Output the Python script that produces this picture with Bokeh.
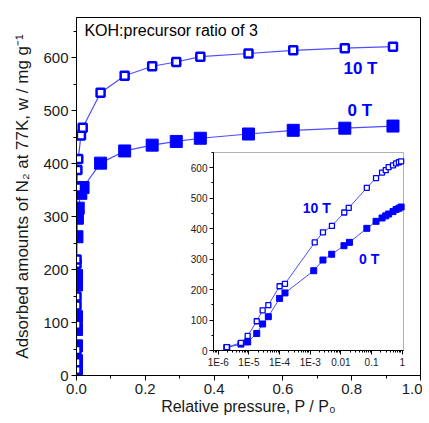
import math
from bokeh.plotting import figure
from bokeh.models import (Range1d, LogScale, LinearAxis, LogAxis, FixedTicker,
                          NumeralTickFormatter, CustomJSTickFormatter, BoxAnnotation, Label)
from bokeh.embed import file_html
from bokeh.resources import INLINE

# ---------------- data ----------------
p_10T = [1.9e-6, 5.5e-6, 9.1e-6, 1.8e-5, 2.8e-5, 4.3e-5, 1.0e-4, 1.5e-4, 1.4e-3, 2.6e-3,
         5.1e-3, 0.0129, 0.018, 0.07, 0.14, 0.22, 0.29, 0.36, 0.50, 0.63, 0.78, 0.92]
w_10T = [11, 25, 48, 96, 132, 149, 211, 219, 355, 388,
         409, 453, 468, 534, 566, 584, 592, 602, 608, 614, 618, 621]

p_0T = [1.9e-6, 5.5e-6, 9.1e-6, 1.8e-5, 2.8e-5, 4.3e-5, 1.0e-4, 1.5e-4, 1.3e-3, 2.6e-3,
        5.0e-3, 0.0126, 0.019, 0.07, 0.14, 0.22, 0.29, 0.36, 0.50, 0.63, 0.78, 0.92]
w_0T = [10, 21, 28, 56, 87, 111, 171, 189, 262, 297,
        316, 344, 355, 401, 424, 435, 442, 448, 456, 463, 467, 471]

main_x_ticks = [0.0, 0.2, 0.4, 0.6, 0.8, 1.0]
main_x_minor = [0.1, 0.3, 0.5, 0.7, 0.9]
main_y_ticks = [0, 100, 200, 300, 400, 500, 600]
main_y_minor = [50, 150, 250, 350, 450, 550, 650]
inset_x_ticks = [1e-6, 1e-5, 1e-4, 1e-3, 1e-2, 1e-1, 1.0]
inset_x_labels = ["1E-6", "1E-5", "1E-4", "1E-3", "0.01", "0.1", "1"]
inset_y_ticks = [0, 100, 200, 300, 400, 500, 600]
inset_y_minor = [50, 150, 250, 350, 450, 550, 650]

title_text = "KOH:precursor ratio of 3"
series_labels = ["10 T", "0 T"]
x_label = "Relative pressure, P / P\u2080"
y_label = "Adsorbed amounts of N\u2082 at 77K, w / mg g\u207b\u00b9"

# ---------------- style / layout ----------------
FONT = "Liberation Sans"
BLUE = "#0000ff"
LINE_BLUE = "#4d4dff"
TXT = "#1a1a1a"

FRAME_W, FRAME_H = 344, 358
X_MAIN = (0.0, 1.0)
Y_MAIN = (0.0, 676.0)

# inset box, in frame pixels (from frame left / top)
IL, IR, IT, IB = 137, 327, 135, 333
IX = (7e-7, 1.1)
IY = (0.0, 650.0)

ppd = (IR - IL) / (math.log10(IX[1]) - math.log10(IX[0]))
ix_start = 10 ** (math.log10(IX[0]) - IL / ppd)
ix_end = 10 ** (math.log10(IX[1]) + (FRAME_W - IR) / ppd)
ppu = (IB - IT) / (IY[1] - IY[0])
iy_start = IY[0] - (FRAME_H - IB) / ppu
iy_end = IY[1] + IT / ppu

p = figure(frame_width=FRAME_W, frame_height=FRAME_H,
           x_range=Range1d(*X_MAIN), y_range=Range1d(*Y_MAIN),
           output_backend="svg", toolbar_location=None,
           min_border_left=76, min_border_top=17, min_border_right=2, min_border_bottom=0)
p.background_fill_color = "white"
p.border_fill_color = "white"
p.outline_line_color = "black"
p.outline_line_width = 1
p.grid.visible = False

p.extra_x_ranges = {"ix": Range1d(ix_start, ix_end)}
p.extra_x_scales = {"ix": LogScale()}
p.extra_y_ranges = {"iy": Range1d(iy_start, iy_end)}

# main axes
xa = p.xaxis[0]
xa.ticker = FixedTicker(ticks=main_x_ticks, minor_ticks=main_x_minor)
xa.formatter = NumeralTickFormatter(format="0.0")
ya = p.yaxis[0]
ya.ticker = FixedTicker(ticks=main_y_ticks, minor_ticks=main_y_minor)
for ax in (xa, ya):
    ax.major_tick_in = 0
    ax.major_tick_out = 5
    ax.minor_tick_in = 0
    ax.minor_tick_out = 3
    ax.axis_line_color = "black"
    ax.major_tick_line_color = "black"
    ax.minor_tick_line_color = "black"
    ax.major_label_text_font = FONT
    ax.major_label_text_font_size = "15px"
    ax.major_label_text_color = TXT
    ax.axis_label_text_font = FONT
    ax.axis_label_text_font_style = "normal"
    ax.axis_label_text_color = TXT
xa.axis_label = x_label
xa.axis_label_text_font_size = "16px"
xa.major_label_standoff = 3
xa.axis_label_standoff = 1
ya.axis_label = y_label
ya.axis_label_text_font_size = "17px"
ya.major_label_standoff = 3
ya.axis_label_standoff = 8

# inset box
p.add_layout(BoxAnnotation(left=IX[0], right=IX[1], bottom=IY[0], top=IY[1],
                           x_range_name="ix", y_range_name="iy",
                           fill_color="white", fill_alpha=1.0,
                           line_color="black", line_width=1, level="underlay"))

# main plot glyphs
p.line(p_0T, w_0T, line_color=LINE_BLUE, line_width=1.2)
p.line(p_10T, w_10T, line_color=LINE_BLUE, line_width=1.2)
p.scatter(p_0T, w_0T, marker="square", size=12, fill_color=BLUE, line_color=BLUE)
p.scatter(p_10T, w_10T, marker="square", size=8, fill_color="white",
          line_color=BLUE, line_width=2.5)

# inset glyphs
p.line(p_0T, w_0T, line_color=LINE_BLUE, line_width=1, x_range_name="ix", y_range_name="iy")
p.line(p_10T, w_10T, line_color=LINE_BLUE, line_width=1, x_range_name="ix", y_range_name="iy")
p.scatter(p_0T, w_0T, marker="square", size=6, fill_color=BLUE, line_color=BLUE,
          x_range_name="ix", y_range_name="iy")
p.scatter(p_10T, w_10T, marker="square", size=5, fill_color="white", line_color=BLUE,
          line_width=1.3, x_range_name="ix", y_range_name="iy")

# inset axes
minor_log = [k * 10.0 ** e for e in range(-7, 1) for k in range(2, 10)
             if IX[0] <= k * 10.0 ** e <= IX[1]]
iax = LogAxis(x_range_name="ix", y_range_name="iy", fixed_location=IY[0], bounds=IX,
              ticker=FixedTicker(ticks=inset_x_ticks, minor_ticks=minor_log),
              formatter=CustomJSTickFormatter(args=dict(labels=inset_x_labels),
                  code="const i = Math.round(Math.log10(tick)) + 6; return labels[i];"))
iay = LinearAxis(x_range_name="ix", y_range_name="iy", fixed_location=IX[0], bounds=IY,
                 ticker=FixedTicker(ticks=inset_y_ticks, minor_ticks=inset_y_minor))
for ax in (iax, iay):
    ax.major_tick_in = 0
    ax.major_tick_out = 4
    ax.minor_tick_in = 0
    ax.minor_tick_out = 2
    ax.major_label_text_font = FONT
    ax.major_label_text_font_size = "10px"
    ax.major_label_text_color = TXT
    ax.major_label_standoff = 2
p.add_layout(iax, "below")
p.add_layout(iay, "left")

# texts
p.add_layout(Label(x=0.023, y=651, text=title_text, text_font=FONT, text_font_size="16px",
                   text_color="black", text_baseline="middle"))
p.add_layout(Label(x=0.776, y=580, text=series_labels[0], text_font=FONT, text_font_size="17px",
                   text_font_style="bold", text_color=BLUE, text_baseline="middle"))
p.add_layout(Label(x=0.788, y=500, text=series_labels[1], text_font=FONT, text_font_size="17px",
                   text_font_style="bold", text_color=BLUE, text_baseline="middle"))
p.add_layout(Label(x=5.7e-4, y=469, text=series_labels[0], text_font=FONT, text_font_size="14px",
                   text_font_style="bold", text_color=BLUE, text_baseline="middle",
                   x_range_name="ix", y_range_name="iy"))
p.add_layout(Label(x=0.039, y=300, text=series_labels[1], text_font=FONT, text_font_size="14px",
                   text_font_style="bold", text_color=BLUE, text_baseline="middle",
                   x_range_name="ix", y_range_name="iy"))

open("out.html", "w").write(file_html(p, INLINE))
